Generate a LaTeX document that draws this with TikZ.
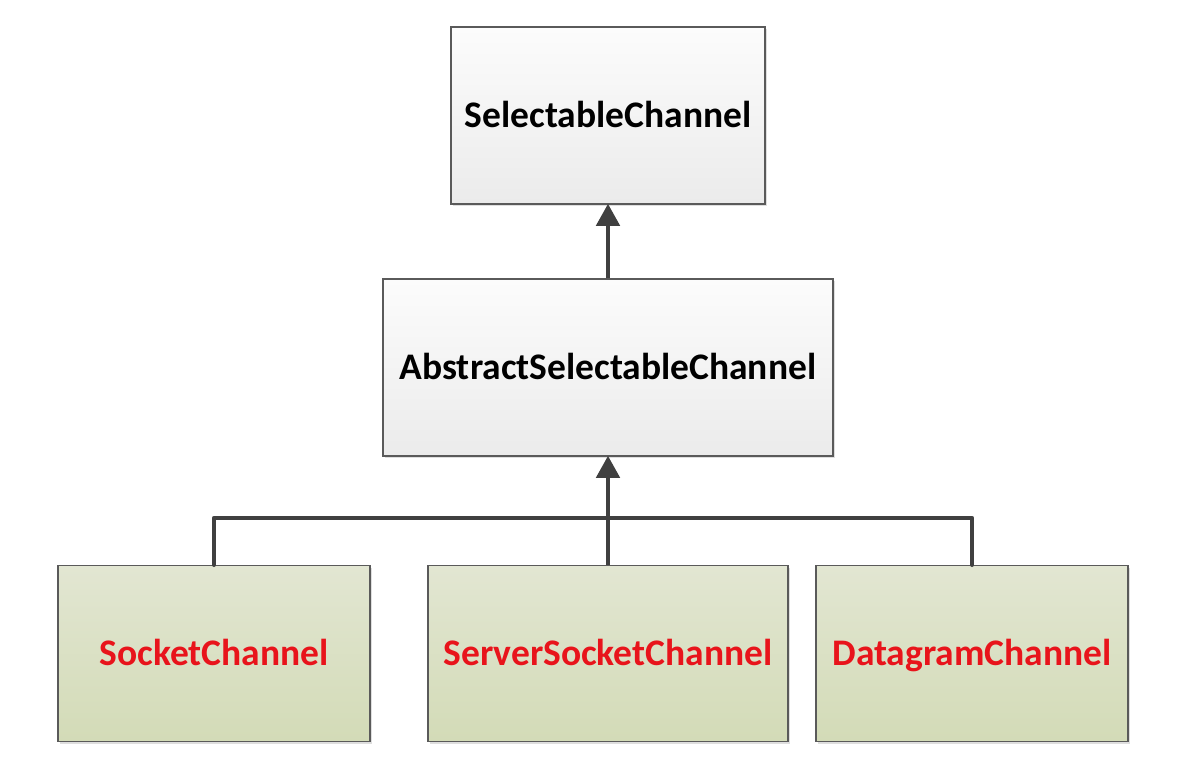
\documentclass[tikz,border=0pt]{standalone}
\usepackage{fontspec}
\setmainfont{Carlito}
\usetikzlibrary{arrows.meta,shadows}
\definecolor{edgec}{HTML}{404040}
\definecolor{boxborder}{HTML}{5A5A5A}
\definecolor{greytop}{HTML}{FCFCFC}
\definecolor{greybot}{HTML}{EBEBEB}
\definecolor{greentop}{HTML}{E2E6D2}
\definecolor{greenbot}{HTML}{D3DBB7}
\definecolor{redtext}{HTML}{E8141B}
\tikzset{
  x=1pt, y=-1pt,
  classbox/.style={draw=boxborder, line width=1.5pt, top color=greytop, bottom color=greybot,
    font=\bfseries\fontsize{37.5}{42}\selectfont, text=black, inner sep=0pt,
    text height=24pt, text depth=-1pt,
    drop shadow={shadow xshift=2pt, shadow yshift=-2pt, fill=black!25}},
  implbox/.style={classbox, top color=greentop, bottom color=greenbot, text=redtext},
  link/.style={draw=edgec, line width=4.5pt},
  inherit/.style={link, -{Triangle[width=23pt,length=22pt]}, shorten >=-1pt},
}
\begin{document}
\begin{tikzpicture}
\useasboundingbox (0,0) rectangle (1184,766);
\fill[white] (0,0) rectangle (1184,766);
\node[classbox, minimum width=314pt, minimum height=177pt] (sel) at (608,115.5) {SelectableChannel};
\node[classbox, minimum width=450pt, minimum height=177pt] (abs) at (608,367.5) {AbstractSelectableChannel};
\node[implbox, minimum width=312pt, minimum height=176pt] (sock) at (214,653.5) {SocketChannel};
\node[implbox, minimum width=360pt, minimum height=176pt] (serv) at (608,653.5) {ServerSocketChannel};
\node[implbox, minimum width=312pt, minimum height=176pt] (dgram) at (972,653.5) {DatagramChannel};
\coordinate (bus) at (608,518);
\draw[link, line cap=round, line join=round] (sock.north) |- (bus) -| (dgram.north);
\draw[link] (serv.north) -- (bus);
\draw[inherit] (bus) -- (abs.south);
\draw[inherit] (abs.north) -- (sel.south);
\end{tikzpicture}
\end{document}
